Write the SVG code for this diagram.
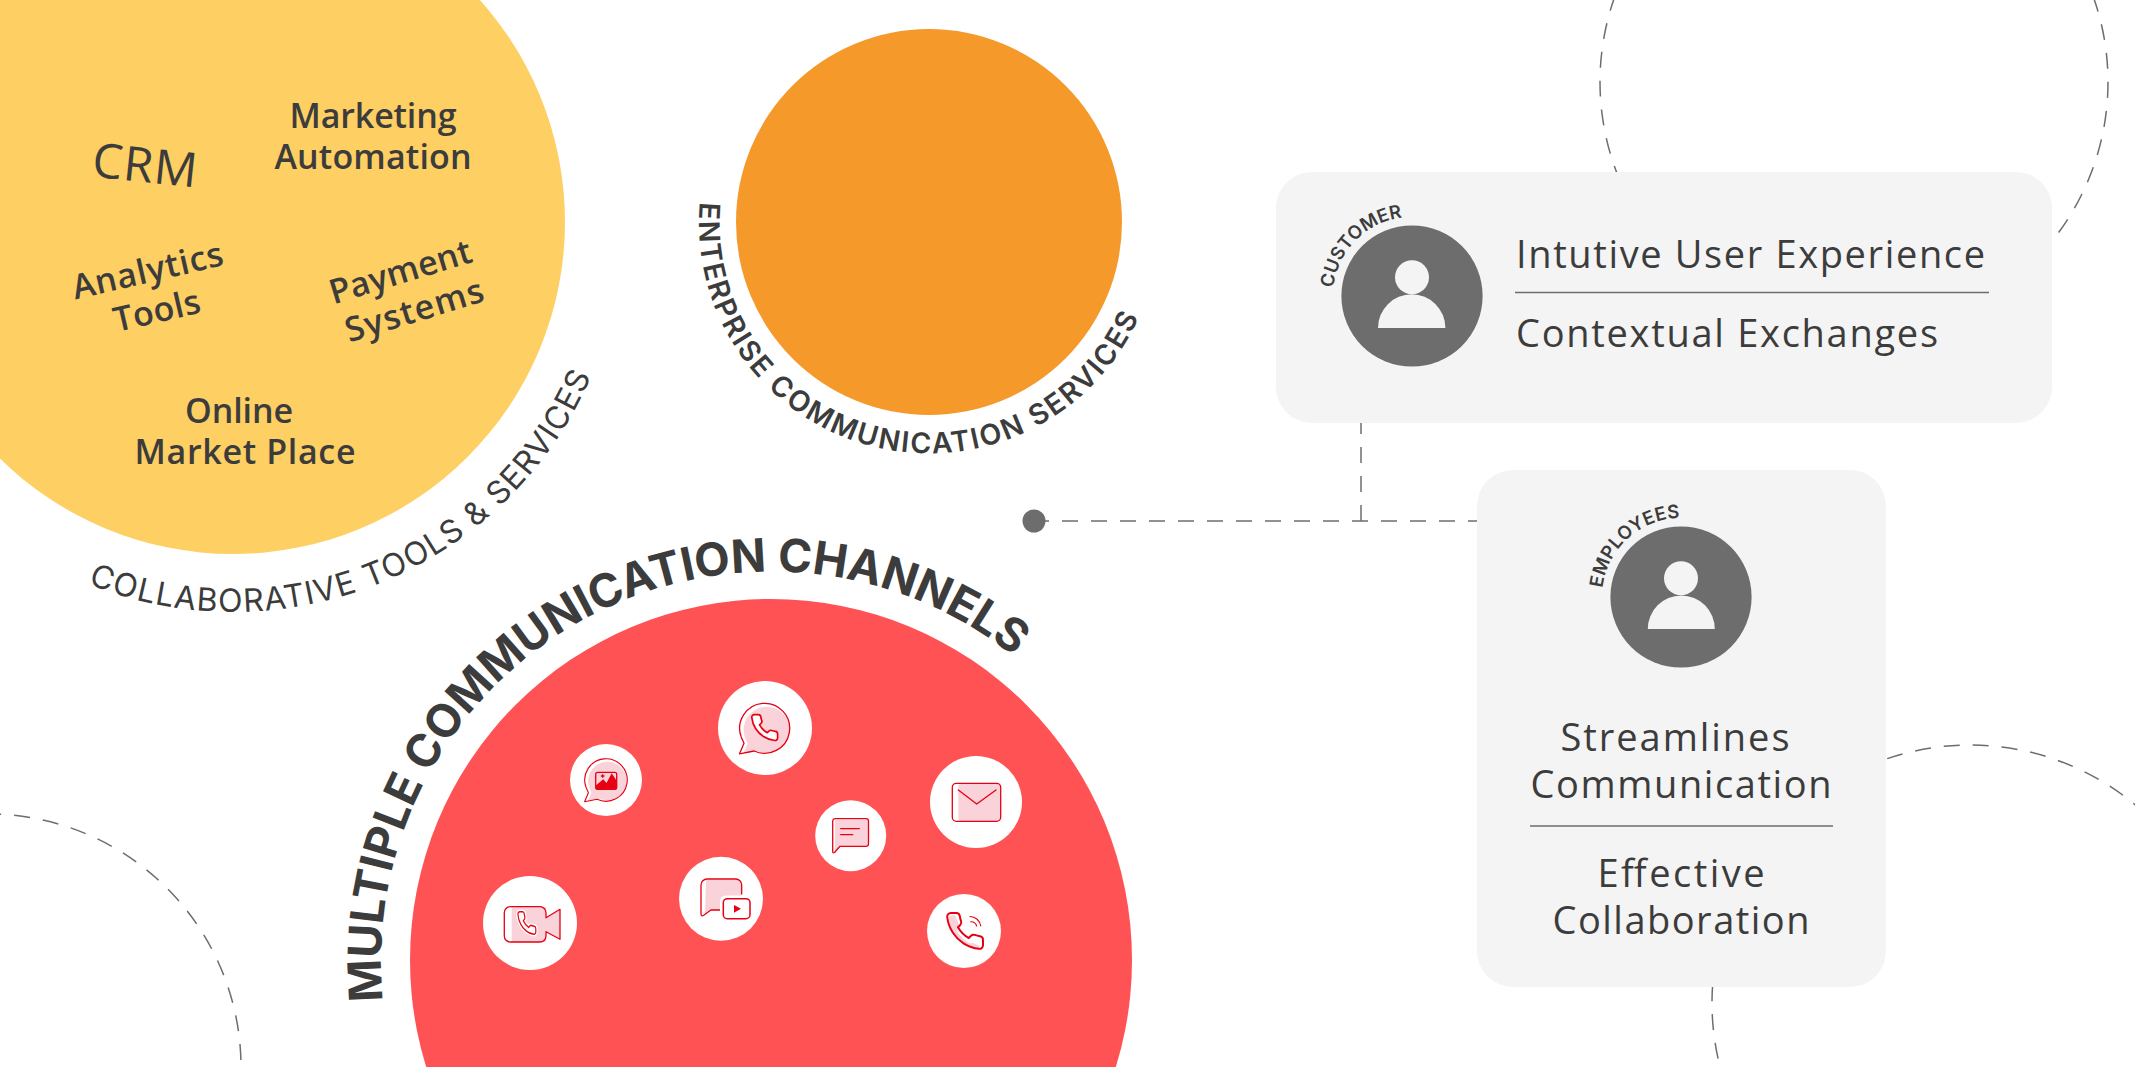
<svg xmlns="http://www.w3.org/2000/svg" xmlns:xlink="http://www.w3.org/1999/xlink" width="2135" height="1067" viewBox="0 0 2135 1067">
<style>
  text { fill:#3c3c3c; font-family:"Open Sans","Liberation Sans",sans-serif; }
  .tool { font-size:34px; font-weight:600; text-anchor:middle; }
  .card { font-size:38px; font-weight:400; }
  .mid { text-anchor:middle; }
  .arc { font-family:Inter,"Liberation Sans",sans-serif; }
  .deco { fill:none; stroke:#6d6d6d; stroke-width:1.5; stroke-dasharray:16 13; }
  .rule { stroke:#6d6d6d; stroke-width:1.5; }
  .ln { fill:none; stroke:#e60012; stroke-width:1.3; stroke-linejoin:round; stroke-linecap:round; vector-effect:non-scaling-stroke; }
  .thin { stroke-width:1.1; }
  .pk { fill:#fad2d9; }
  .av { fill:#6d6d6d; }
  .lt { fill:#f4f4f4; }
  .wh { fill:#fff; }
</style>
<defs>
  <path id="handset" d="M22 16.92v3a2 2 0 0 1-2.18 2 19.79 19.79 0 0 1-8.63-3.07 19.5 19.5 0 0 1-6-6 19.79 19.79 0 0 1-3.07-8.67A2 2 0 0 1 4.11 2h3a2 2 0 0 1 2 1.72 12.84 12.84 0 0 0 .7 2.81 2 2 0 0 1-.45 2.11L8.09 9.91a16 16 0 0 0 6 6l1.27-1.27a2 2 0 0 1 2.11-.45 12.84 12.84 0 0 0 2.81.7A2 2 0 0 1 22 16.92z"/>
  <path id="bubble" d="M-23.5 8.6A25 25 0 1 1-10.5 22.7L-25.2 25.5L-20.7 15Z"/>
  <path id="arc-tools" d="M88 584A390 390 0 0 0 623 222"/>
  <path id="arc-enterprise" d="M700 202A230 230 0 1 0 1159 222"/>
  <path id="arc-channels" d="M383 1001A390 390 0 1 1 1161 960"/>
  <path id="arc-customer" d="M1333.4 288A79 79 0 0 1 1491 296"/>
  <path id="arc-employees" d="M1602.5 588A79 79 0 0 1 1760 597"/>
</defs>

<!-- decorative dashed rings behind everything -->
<g id="rings">
  <circle class="deco" cx="1854" cy="82" r="254"/>
  <circle class="deco" cx="1970" cy="1003" r="258"/>
  <circle class="deco" cx="-12" cy="1067" r="253"/>
</g>

<g id="connectors">
  <path class="deco" d="M1033 521H1477"/>
  <path class="deco" d="M1361 521V423"/>
  <circle class="av" cx="1034" cy="521" r="11.500"/>
</g>

<g id="tools-circle">
  <circle cx="233" cy="222" r="332" fill="#fecf63"/>
  <text x="145" y="182" font-size="48" font-weight="400" text-anchor="middle" textLength="105" transform="rotate(6 144 165)">CRM</text>
  <text class="tool" x="373" y="128" textLength="167">Marketing</text>
  <text class="tool" x="373" y="169" textLength="197">Automation</text>
  <g transform="rotate(-13 152 290)">
    <text class="tool" x="152" y="282" textLength="154">Analytics</text>
    <text class="tool" x="152" y="323" textLength="88">Tools</text>
  </g>
  <g transform="rotate(-17 408 290)">
    <text class="tool" x="406" y="282" textLength="147">Payment</text>
    <text class="tool" x="408" y="323" textLength="143">Systems</text>
  </g>
  <text class="tool" x="239" y="423" textLength="108">Online</text>
  <text class="tool" x="245" y="464" textLength="221">Market Place</text>
  <text class="arc" font-size="32" font-weight="400" letter-spacing="1.100"><textPath href="#arc-tools">COLLABORATIVE TOOLS &amp; SERVICES</textPath></text>
</g>

<g id="enterprise-circle">
  <circle cx="929" cy="222" r="193" fill="#f5992b"/>
  <text class="arc" font-size="28.500" font-weight="600" letter-spacing="2"><textPath href="#arc-enterprise">ENTERPRISE COMMUNICATION SERVICES</textPath></text>
</g>

<g id="channels-circle">
  <circle cx="771" cy="960" r="361" fill="#ff5255"/>
  <text class="arc" font-size="46" font-weight="700" letter-spacing="-0.150"><textPath href="#arc-channels">MULTIPLE COMMUNICATION CHANNELS</textPath></text>
</g>

<g id="icon-whatsapp">
  <circle class="wh" cx="765" cy="728" r="47"/>
  <use href="#bubble" class="pk" transform="translate(766.700 729.800) scale(.92)"/>
  <use href="#bubble" class="ln" transform="translate(764.700 728.300)"/>
  <use href="#handset" class="ln" style="fill:#fff" transform="translate(749 712) scale(1.3)"/>
</g>

<g id="icon-picture">
  <circle class="wh" cx="606" cy="780" r="36"/>
  <use href="#bubble" class="pk" transform="translate(607.400 781) scale(.77)"/>
  <use href="#bubble" class="ln" transform="translate(606 780) scale(.85)"/>
  <rect x="595.700" y="772.300" width="21" height="17" rx="2" class="ln"/>
  <path d="M595.700 789.300V785.500L603.300 779.300L606.500 783L611.700 773.300L616.700 781V789.300Z" fill="#e60012"/>
  <path class="ln" d="M601.300 776H604M602.700 774.700V777.300"/>
</g>

<g id="icon-videocall">
  <circle class="wh" cx="530" cy="923" r="47"/>
  <rect x="511.700" y="906.700" width="34.300" height="35.300" class="pk"/>
  <path class="pk" d="M546 917.700L560 909.300V939.300L546 931.700Z"/>
  <path class="ln" d="M546 917.700V912.700a6 6 0 0 0-6-6H510.300a6 6 0 0 0-6 6V936a6 6 0 0 0 6 6H540a6 6 0 0 0 6-6V931.700L560 939.300V909.300Z"/>
  <use href="#handset" fill="#fff" stroke="#fff" stroke-width="4" transform="translate(516 909.500) scale(.9 1.13)"/>
  <use href="#handset" class="ln" transform="translate(516 909.500) scale(.9 1.13)"/>
</g>

<g id="icon-chatvideo">
  <circle class="wh" cx="721" cy="898.700" r="42"/>
  <path class="pk" d="M706 880H736a5 5 0 0 1 5 5V910H711L705 914Z"/>
  <path class="ln" d="M741.700 894V885a6 6 0 0 0-6-6H707a6 6 0 0 0-6 6V914q0 3 3 1L711 910H721"/>
  <rect x="720" y="895.500" width="33" height="26.500" rx="6" fill="#fff"/>
  <rect x="723.300" y="898.700" width="26.700" height="20" rx="4" fill="#fff" stroke="#e60012" stroke-width="1.500"/>
  <path d="M734 905L741 908.700L734 912.700Z" fill="#e60012"/>
</g>

<g id="icon-message">
  <circle class="wh" cx="850.700" cy="835.700" r="35.500"/>
  <path class="pk" d="M835 820H866a2 2 0 0 1 2 2V844a2 2 0 0 1-2 2H840L835 851Z"/>
  <path class="ln" d="M835 818.700H866a2.500 2.500 0 0 1 2.500 2.500V843.800a2.500 2.500 0 0 1-2.500 2.500H840L834.500 852.500q-1.800 1-1.800-1V821a2.500 2.500 0 0 1 2.300-2.300Z"/>
  <path class="ln" d="M840.700 828.700H859.300M840.700 834.700H852.700"/>
</g>

<g id="icon-mail">
  <circle class="wh" cx="976" cy="802" r="46"/>
  <rect x="958.300" y="784" width="42" height="37" rx="3" class="pk"/>
  <rect x="952.300" y="783.300" width="48.400" height="38" rx="4" class="ln"/>
  <path class="ln" d="M958.300 790L976.700 804L996 790"/>
</g>

<g id="icon-phone">
  <circle class="wh" cx="964" cy="931" r="37"/>
  <path class="pk" d="M949 916L955 915L959 925L957 931C962 940 970 944 973 943L980 946L979 948C965 948 948 935 949 916Z"/>
  <use href="#handset" class="ln thin" transform="translate(943.400 909.400) scale(1.8)"/>
  <path class="ln thin" d="M970 916.500A11 11 0 0 1 980.700 926M970.700 921.700A6 6 0 0 1 976.700 926"/>
</g>

<g id="customer-card">
  <rect x="1276" y="172" width="776" height="251" rx="36" class="lt"/>
  <circle class="av" cx="1412" cy="296" r="70.600"/>
  <circle class="lt" cx="1412" cy="277.300" r="17"/>
  <path class="lt" d="M1378 328a33.700 33.700 0 0 1 67.400 0Z"/>
  <text class="arc" font-size="18.500" font-weight="600" letter-spacing="0.100"><textPath href="#arc-customer">CUSTOMER</textPath></text>
  <text class="card" x="1516" y="268" textLength="469">Intutive User Experience</text>
  <line class="rule" x1="1515" y1="292.500" x2="1989" y2="292.500"/>
  <text class="card" x="1516" y="347" textLength="422">Contextual Exchanges</text>
</g>

<g id="employees-card">
  <rect x="1477" y="470" width="409" height="517" rx="36" class="lt"/>
  <circle class="av" cx="1681" cy="597" r="70.600"/>
  <circle class="lt" cx="1681" cy="578.300" r="17"/>
  <path class="lt" d="M1647.800 629a33.500 33.500 0 0 1 67 0Z"/>
  <text class="arc" font-size="18.500" font-weight="600" letter-spacing="0.300"><textPath href="#arc-employees">EMPLOYEES</textPath></text>
  <text class="card mid" x="1675" y="751" textLength="229">Streamlines</text>
  <text class="card mid" x="1681" y="798" textLength="301">Communication</text>
  <line class="rule" x1="1530" y1="826" x2="1833" y2="826"/>
  <text class="card mid" x="1681" y="887" textLength="167">Effective</text>
  <text class="card mid" x="1681" y="934" textLength="257">Collaboration</text>
</g>
</svg>
